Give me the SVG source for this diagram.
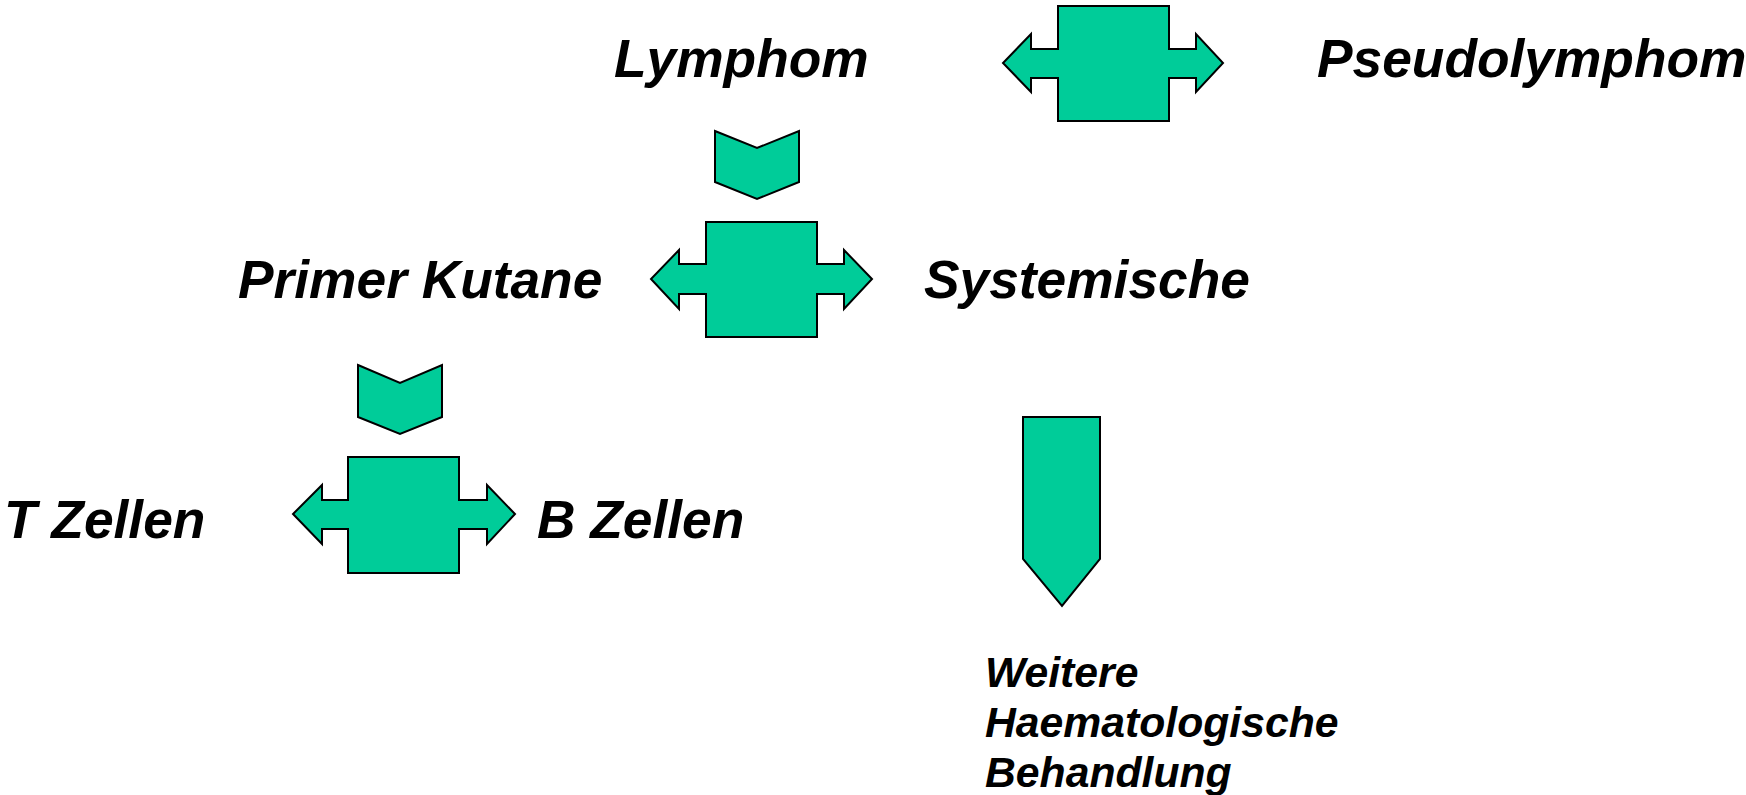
<svg xmlns="http://www.w3.org/2000/svg" width="1746" height="795" viewBox="0 0 1746 795">
<style>
.s{fill:#00CC99;stroke:#000;stroke-width:2;stroke-linejoin:miter}
.t{font-family:"Liberation Sans",Arial,sans-serif;font-weight:bold;font-style:italic;font-size:53.3px;fill:#000}
.m{font-family:"Liberation Sans",Arial,sans-serif;font-weight:bold;font-style:italic;font-size:42.7px;fill:#000}
</style>
<rect width="1746" height="795" fill="#fff"/>
<g id="lymphom"><text class="t" x="614" y="77">Lymphom</text></g>
<g id="pseudolymphom"><text class="t" x="1317" y="77">Pseudolymphom</text></g>
<g id="primer-kutane"><text class="t" x="238" y="298">Primer Kutane</text></g>
<g id="systemische"><text class="t" x="924" y="298">Systemische</text></g>
<g id="t-zellen"><text class="t" x="4" y="538">T Zellen</text></g>
<g id="b-zellen"><text class="t" x="537" y="538">B Zellen</text></g>
<g id="weitere"><text class="m" x="985" y="687">Weitere</text><text class="m" x="985" y="737">Haematologische</text><text class="m" x="985" y="787">Behandlung</text></g>
<g id="connectors">
<path class="s" d="M1058,6 H1169 V49 H1196 V34 L1223,63 L1196,92 V78 H1169 V121 H1058 V78 H1031 V92 L1003,63 L1031,34 V49 H1058 Z"/>
<path class="s" d="M715,131 L757,148 L799,131 V182 L757,199 L715,182 Z"/>
<path class="s" d="M706,222 H817 V264 H844 V250 L872,279 L844,309 V294 H817 V337 H706 V294 H679 V309 L651,279 L679,250 V264 H706 Z"/>
<path class="s" d="M358,365 L400,383 L442,365 V417 L400,434 L358,417 Z"/>
<path class="s" d="M348,457 H459 V500 H487 V485 L515,514 L487,544 V529 H459 V573 H348 V529 H322 V544 L293,514 L322,485 V500 H348 Z"/>
<path class="s" d="M1023,417 H1100 V559 L1062,606 L1023,559 Z"/>
</g>
</svg>
